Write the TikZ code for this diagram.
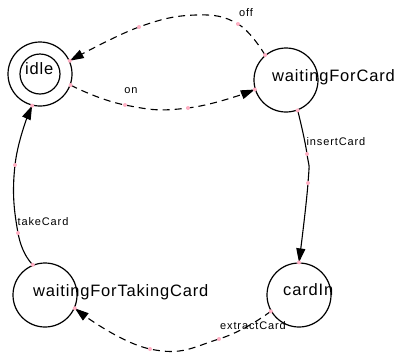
\documentclass[tikz,border=0pt]{standalone}
\usepackage{fontspec}
\setmainfont{Liberation Sans}
\newfontfamily\statefont[LetterSpace=5]{Liberation Sans}
\newfontfamily\labfont[LetterSpace=8]{Liberation Sans}
\usetikzlibrary{arrows.meta,calc}
\definecolor{dotpink}{RGB}{255,175,195}
\begin{document}
\begin{tikzpicture}[x=1pt,y=-1pt,
  statecirc/.style={circle,draw,line width=1.2pt,minimum size=64pt,inner sep=0pt},
  statetext/.style={anchor=base west,inner sep=0pt,font=\fontsize{16.5}{18}\statefont},
  edgelab/.style={inner sep=0pt,font=\fontsize{11}{12}\labfont},
  edge/.style={line width=1.1pt,-{Triangle[length=14pt,width=9pt]}},
  dashedge/.style={edge,dash pattern=on 7pt off 5pt},
  pdot/.style={fill=dotpink,draw=none,circle,minimum size=4pt,inner sep=0pt}]
\useasboundingbox (0,0) rectangle (396,354);
% states
\node[statecirc] (idle) at (40,74) {};
\draw[line width=1.2pt] (idle.center) circle (20pt);
\node[statecirc] (wfc) at (286,80) {};
\node[statecirc] (cardin) at (299,295) {};
\node[statecirc] (wftc) at (45,295) {};
\node[statetext] (idleT) at ($(idle.center)+(-15,0)$) {idle};
\node[statetext] (wfcT) at ($(wfc.center)+(-14,1)$) {waitingForCard};
\node[statetext] (cardinT) at ($(cardin.center)+(-16,0)$) {cardIn};
\node[statetext] (wftcT) at ($(wftc.center)+(-12,1)$) {waitingForTakingCard};
% intermediate points
\coordinate (on1) at (125,105);
\coordinate (on2) at (188,108);
\coordinate (off1) at (238,24);
\coordinate (offtop) at (196,15);
\coordinate (off2) at (139,27);
\coordinate (ins1) at (307,154);
\coordinate (ins2) at (308,183);
\coordinate (ext1) at (219,339);
\coordinate (ext2) at (150,349);
\coordinate (tak1) at (18,233);
\coordinate (tak2) at (15,165);
% edges
\draw[dashedge] plot[smooth,tension=0.8] coordinates {(idle.-20) (on1) (on2) (wfc.-163)};
\draw[dashedge] plot[smooth,tension=0.7] coordinates {(wfc.130) (off1) (offtop) (off2) (idle.24)};
\draw[edge] plot[smooth,tension=0.8] coordinates {(wfc.-69) (ins1) (ins2) (cardin.90)};
\draw[dashedge] plot[smooth,tension=0.8] coordinates {(cardin.-150) (ext1) (ext2) (wftc.-24)};
\draw[edge] plot[smooth,tension=0.8] coordinates {(wftc.112) (tak1) (tak2) (idle.-104)};
% labels
\node[edgelab] (onL) at (131,91) {on};
\node[edgelab] (offL) at (246,13) {off};
\node[edgelab] (insL) at (336,142) {insertCard};
\node[edgelab] (takL) at (43,222) {takeCard};
\node[edgelab] (extL) at (253,326) {extractCard};
% control dots
\foreach \p in {idle.-20,on1,on2,wfc.-163,wfc.130,off1,off2,idle.24,wfc.-69,ins1,ins2,cardin.90,cardin.-150,ext1,ext2,wftc.-24,wftc.112,tak1,tak2,idle.-104}
  \node[pdot] at (\p) {};
\end{tikzpicture}
\end{document}
